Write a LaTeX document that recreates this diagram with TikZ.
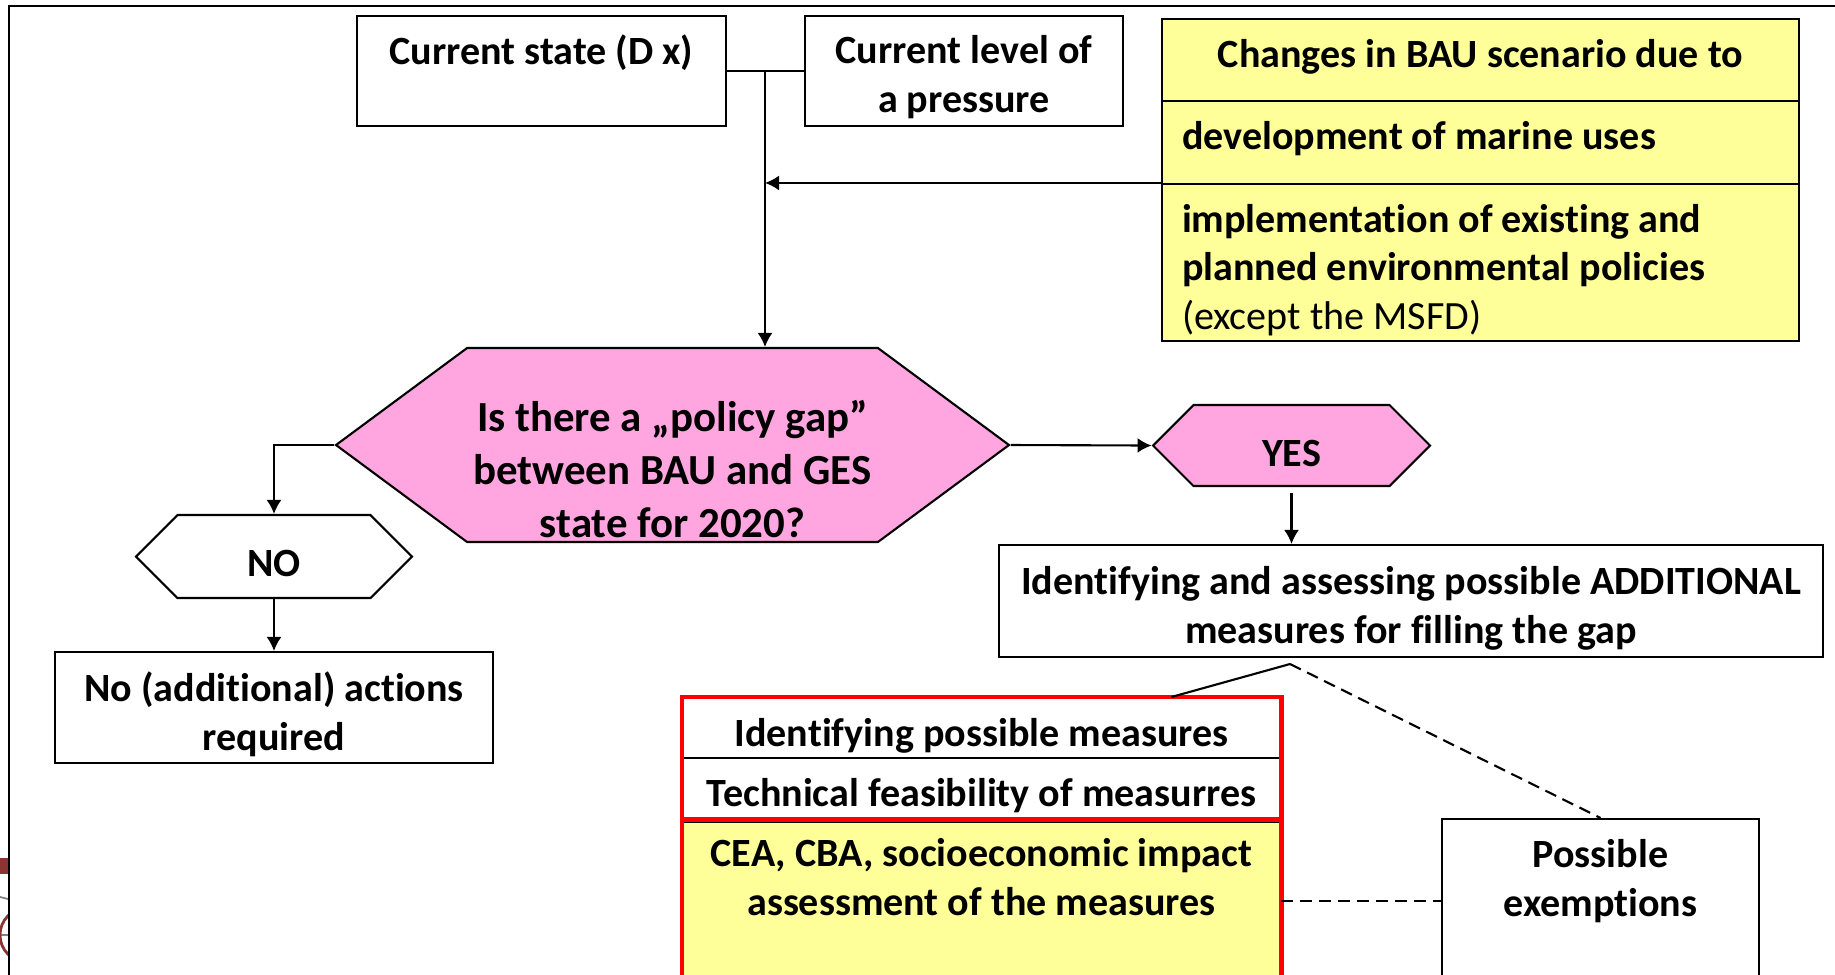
\documentclass[tikz,border=0pt]{standalone}
\usepackage{fontspec}
\setmainfont{Carlito}[Ligatures=NoCommon]
\usepackage{xcolor}
\usetikzlibrary{arrows.meta,shapes.symbols}

\definecolor{gappink}{RGB}{255,166,224}
\definecolor{bauyellow}{RGB}{255,255,153}
\definecolor{logored}{RGB}{140,52,52}

\begin{document}
\begin{tikzpicture}[x=0.1mm, y=-0.1mm,
    drop/.style={execute at begin node={\rule{0pt}{#1}}},
    drop/.default=12.4pt,
    box/.style={rectangle, draw, line width=0.6pt, align=flush center, inner sep=0pt,
      font=\fontsize{11.4}{13.9}\selectfont\bfseries},
    leftbox/.style={box, align=flush left, inner xsep=2mm, text width=59.7mm},
    decision/.style={signal, signal to=east and west, draw, line width=0.6pt,
      fill=gappink, inner sep=0pt, font=\fontsize{11.4}{13.9}\selectfont\bfseries},
    link/.style={line width=0.6pt},
    optional/.style={link, dash pattern=on 1.2mm off 0.7mm},
    arrow/.style={link, -{Latex[length=1.4mm, width=1.5mm]}}]
    \useasboundingbox (0,0) rectangle (1835,974);
    \clip (0,0) rectangle (1835,974);

    % bit of a logo behind the frame
    \begin{scope}
        \clip (0,840) rectangle (8.5,974);
        \fill[logored] (0,858) rectangle (8,874);
        \draw[gray, line width=0.5pt] (0,897) -- (8,899) (0,935) -- (8,935);
        \draw[logored, line width=0.8pt] (27,935) circle (27);
    \end{scope}
    \draw[link] (9,1000) -- (9,6) -- (1900,6);

    % top row
    \node[box, drop=10pt, text width=36.9mm, minimum height=11mm] (state) at (541.5,71) {Current state (D x)\\~};
    \node[box, drop=11.6pt, text width=31.8mm, minimum height=11mm] (level) at (964,71) {Current level of\\a pressure};

    \node[box, fill=bauyellow, text height=0.75em, text depth=0.3em, minimum width=63.7mm, minimum height=8.2mm] (bau1) at (1480.5,60) {Changes in BAU scenario due to};
    \node[leftbox, fill=bauyellow, text height=0.75em, text depth=0.36em, minimum height=8.3mm] (bau2) at (1480.5,142.5) {development of marine uses};
    \node[leftbox, drop=12.3pt, fill=bauyellow, minimum height=15.7mm] (bau3) at (1480.5,262.5) {implementation of existing and\\planned environmental policies\\{\mdseries (except the MSFD)}};

    % decisions
    \node[decision, signal pointer angle=73, minimum width=67.3mm, minimum height=19.4mm] (gap) at (672.5,445) {};
    \node[align=center, font=\fontsize{12.2}{15}\selectfont\bfseries] (gaptext) at (672.5,469) {Is there a „policy gap”\\between BAU and GES\\state for 2020?};
    \node[decision, drop=11.8pt, signal pointer angle=90, minimum width=27.7mm, minimum height=8.1mm] (yes) at (1291.5,445.5) {YES};
    \node[decision, drop=11.4pt, fill=white, signal pointer angle=90, minimum width=27.6mm, minimum height=8.3mm] (no) at (274,556.5) {NO};

    \node[box, drop, text width=43.8mm, minimum height=11.1mm] (none) at (274,707.5) {No (additional) actions\\required};
    \node[box, drop, text width=82.4mm, minimum height=11.2mm] (ident) at (1411,601) {Identifying and assessing possible ADDITIONAL\\measures for filling the gap};

    % measures
    \node[box, drop, fill=white, minimum width=59.7mm, minimum height=6mm] (m1) at (981.5,728) {Identifying possible measures};
    \node[box, drop, fill=white, minimum width=59.7mm, minimum height=6mm] (m2) at (981.5,788) {Technical feasibility of measurres};
    \node[box, fill=bauyellow, text width=59.7mm, minimum height=15.8mm] (m3) at (981.5,901) {CEA, CBA, socioeconomic impact\\assessment of the measures\\~};
    \draw[red, line width=1.4pt] (m1.north west) rectangle (m3.south east);
    \draw[red, line width=1.4pt] (m2.south west) -- (m2.south east);

    \node[box, drop=9.6pt, text width=31.7mm, minimum height=16.1mm] (exempt) at (1600.5,899.5) {Possible\\exemptions\\~};

    % connectors
    \coordinate (join) at (765,72);
    \coordinate (split) at (1290,664);
    \draw[link] (state.east) -- (level.west);
    \draw[arrow] (join) -- (join |- gap.north);
    \draw[arrow] (bau3.north west) -- (bau3.north west -| join);
    \draw[arrow] (gap.east) -- (yes.west);
    \draw[arrow] (gap.west) -| (no.north);
    \draw[arrow] (no.south) -- (none.north);
    \draw[arrow, shorten <=0.6mm] (yes.south) -- (yes.south |- ident.north);
    \draw[link] (split) -- ([xshift=19mm]m1.north);
    \draw[optional] (split) -- (exempt.north);
    \draw[optional] (m3.east) -- (m3.east -| exempt.west);
\end{tikzpicture}
\end{document}
